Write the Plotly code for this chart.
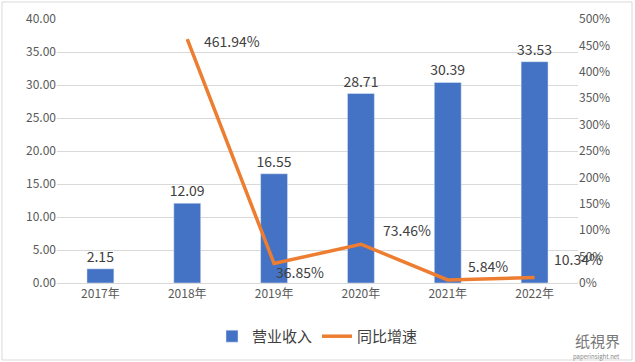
import plotly.graph_objects as go

years = ["2017年", "2018年", "2019年", "2020年", "2021年", "2022年"]
revenue = [2.15, 12.09, 16.55, 28.71, 30.39, 33.53]
growth_years = ["2018年", "2019年", "2020年", "2021年", "2022年"]
growth = [461.94, 36.85, 73.46, 5.84, 10.34]
left_ticks = [0, 5, 10, 15, 20, 25, 30, 35, 40]
right_ticks = [0, 50, 100, 150, 200, 250, 300, 350, 400, 450, 500]

BLUE = "#4472C4"
ORANGE = "#ED7D31"
TXT = "#404040"
TICK = "#595959"
FONT = "Noto Sans CJK SC, Open Sans, sans-serif"

fig = go.Figure()
fig.add_trace(go.Bar(
    x=years, y=revenue, name="营业收入", marker_color=BLUE, width=0.31,
    text=[f"{v:.2f}" for v in revenue], textposition="outside",
    constraintext="none",
    textfont=dict(size=14, color=TXT, family=FONT), cliponaxis=False,
))
fig.add_trace(go.Scatter(
    x=growth_years, y=growth, name="同比增速", yaxis="y2", mode="lines",
    line=dict(color=ORANGE, width=3.5),
))

# growth data labels
shifts = [(45, -2), (26, -8), (46, 14), (40, 14), (43, 19)]
for gx, gy, (dx, dy) in zip(growth_years, growth, shifts):
    fig.add_annotation(x=gx, y=gy, yref="y2", text=f"{gy:.2f}%", showarrow=False,
                       xshift=dx, yshift=dy, font=dict(size=14, color=TXT, family=FONT))

fig.update_layout(
    width=635, height=362,
    margin=dict(l=57, r=57, t=19, b=79, autoexpand=False),
    paper_bgcolor="white", plot_bgcolor="white",
    font=dict(family=FONT, color=TICK, size=12),
    bargap=0.69,
    xaxis=dict(showgrid=False, showline=True, linecolor="#D9D9D9", ticks="",
               range=[-0.5, len(years) - 0.5],
               automargin=False, tickfont=dict(size=12, color=TICK)),
    yaxis=dict(range=[0, 40], tickvals=left_ticks, tickformat=".2f",
               gridcolor="#D9D9D9", gridwidth=1, zeroline=False, automargin=False,
               tickfont=dict(size=12, color=TICK)),
    yaxis2=dict(range=[0, 500], tickvals=right_ticks,
                ticktext=[f"{v}%" for v in right_ticks], automargin=False,
                overlaying="y", side="right", showgrid=False, zeroline=False,
                tickfont=dict(size=12, color=TICK)),
    legend=dict(orientation="h", x=0.5, xanchor="center", y=-0.14, yanchor="top",
                font=dict(size=15, color=TXT, family=FONT),
                itemwidth=30, tracegroupgap=0),
    showlegend=True,
)

fig.add_shape(type="rect", xref="paper", yref="paper", x0=-55/521, x1=1+54/521,
              y0=-77/264, y1=1+17/264, line=dict(color="#D9D9D9", width=1))

fig.add_annotation(xref="paper", yref="paper", x=1.085, y=-0.17, text="纸視界",
                   showarrow=False, xanchor="right", yanchor="top",
                   font=dict(size=15, color="#777777", family=FONT))
fig.add_annotation(xref="paper", yref="paper", x=1.085, y=-0.255, text="paperinsight.net",
                   showarrow=False, xanchor="right", yanchor="top",
                   font=dict(size=6, color="#888888", family=FONT))

fig.write_html("out.html", config={"displayModeBar": False},
               post_script="document.body.style.margin='0';document.body.style.overflow='hidden';")
